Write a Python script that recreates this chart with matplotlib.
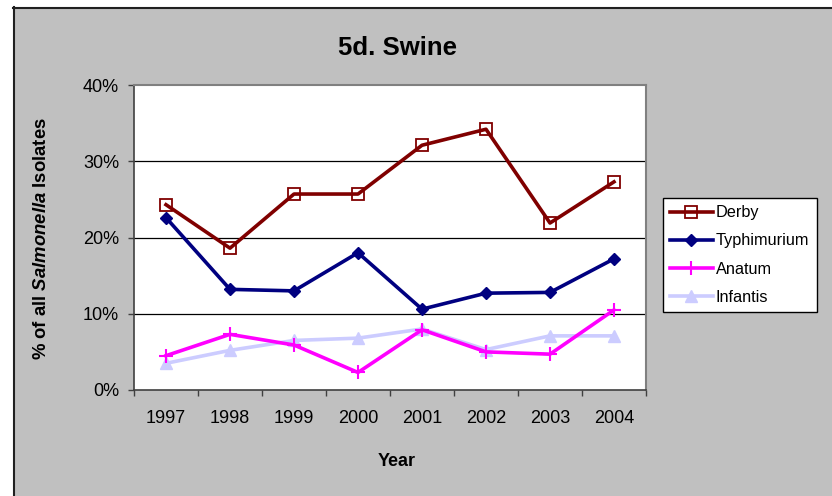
import matplotlib
matplotlib.use("Agg")
import matplotlib.pyplot as plt
from matplotlib.patches import Rectangle
from matplotlib.lines import Line2D

years = ["1997", "1998", "1999", "2000", "2001", "2002", "2003", "2004"]
derby = [24.3, 18.6, 25.7, 25.7, 32.1, 34.2, 21.9, 27.3]
typhimurium = [22.6, 13.2, 13.0, 18.0, 10.6, 12.7, 12.8, 17.2]
anatum = [4.5, 7.3, 5.9, 2.3, 7.9, 5.0, 4.7, 10.5]
infantis = [3.5, 5.2, 6.5, 6.8, 8.0, 5.3, 7.1, 7.1]
yticks = [0, 10, 20, 30, 40]

plt.rcParams['font.family'] = ['Liberation Sans', 'DejaVu Sans']
plt.rcParams['mathtext.fontset'] = 'custom'
plt.rcParams['mathtext.it'] = 'Liberation Sans:italic:bold'
plt.rcParams['mathtext.rm'] = 'Liberation Sans:bold'

W, H = 832, 496
fig = plt.figure(figsize=(W / 100, H / 100), dpi=100, facecolor='white')

# gray panel with top/left border
fig.patches.append(Rectangle((13 / W, 0), 1 - 13 / W, 1 - 7 / H, transform=fig.transFigure,
                             facecolor='#C0C0C0', edgecolor='none', zorder=-10))
fig.lines.append(Line2D([13 / W, 1], [1 - 7.5 / H, 1 - 7.5 / H], transform=fig.transFigure,
                        color='#202020', lw=1.5, zorder=-9))
fig.lines.append(Line2D([13.5 / W, 13.5 / W], [0, 1 - 7 / H], transform=fig.transFigure,
                        color='#202020', lw=1.5, zorder=-9))

ax = fig.add_axes([134 / W, 1 - 390 / H, (646 - 134) / W, (390 - 85) / H])
ax.set_facecolor('white')

x = list(range(len(years)))
lw = 2.6
ax.plot(x, derby, color='#800000', lw=lw, marker='s', ms=8.5, mfc='none', mec='#800000',
        mew=1.3, label='Derby', zorder=5)
ax.plot(x, typhimurium, color='#000080', lw=lw, marker='D', ms=6.5, mfc='#000080',
        mec='#000080', label='Typhimurium', zorder=4)
ax.plot(x, anatum, color='#FF00FF', lw=lw, marker='+', ms=10, mew=1.5, mec='#FF00FF',
        label='Anatum', zorder=3)
ax.plot(x, infantis, color='#CCCCFF', lw=lw, marker='^', ms=8, mfc='#CCCCFF', mec='#CCCCFF',
        label='Infantis', zorder=2)

ax.set_xlim(-0.5, len(years) - 0.5)
ax.set_ylim(0, 40)
ax.set_yticks(yticks)
ax.set_yticklabels([f"{v}%" for v in yticks], fontsize=13)
for v in yticks[1:-1]:
    ax.axhline(v, color='black', lw=0.9, zorder=1)

ax.set_xticks([i - 0.5 for i in range(len(years) + 1)])
ax.set_xticklabels([])
ax.set_xticks(x, minor=True)
ax.set_xticklabels(years, minor=True, fontsize=13)
ax.tick_params(axis='x', which='major', direction='out', length=4, width=1, color='#404040')
ax.tick_params(axis='x', which='minor', length=0, pad=14.2)
ax.tick_params(axis='y', direction='out', length=4, width=1, color='#404040', pad=6.8)

for s in ['left', 'bottom']:
    ax.spines[s].set_color('#404040')
    ax.spines[s].set_linewidth(1.2)
for s in ['top', 'right']:
    ax.spines[s].set_color('#808080')
    ax.spines[s].set_linewidth(1.5)

fig.text(397.5 / W, 1 - 48 / H, "5d. Swine", ha='center', va='center', fontsize=18.5,
         fontweight='bold')
fig.text(397 / W, 1 - 461 / H, "Year", ha='center', va='center', fontsize=13,
         fontweight='bold')
fig.text(42 / W, 1 - 239 / H, "% of all $\\mathit{Salmonella}$ Isolates", ha='center',
         va='center', rotation=90, fontsize=13.3, fontweight='bold')

leg = fig.legend(loc='upper left', bbox_to_anchor=(663 / W, 1 - 198 / H), borderaxespad=0,
                 fancybox=False, edgecolor='black', framealpha=1, fontsize=11.7,
                 handlelength=2.6, handletextpad=0.2, labelspacing=0.81,
                 borderpad=0.45)
leg.get_frame().set_linewidth(1.0)

fig.savefig('out.png', dpi=100, facecolor='white')
